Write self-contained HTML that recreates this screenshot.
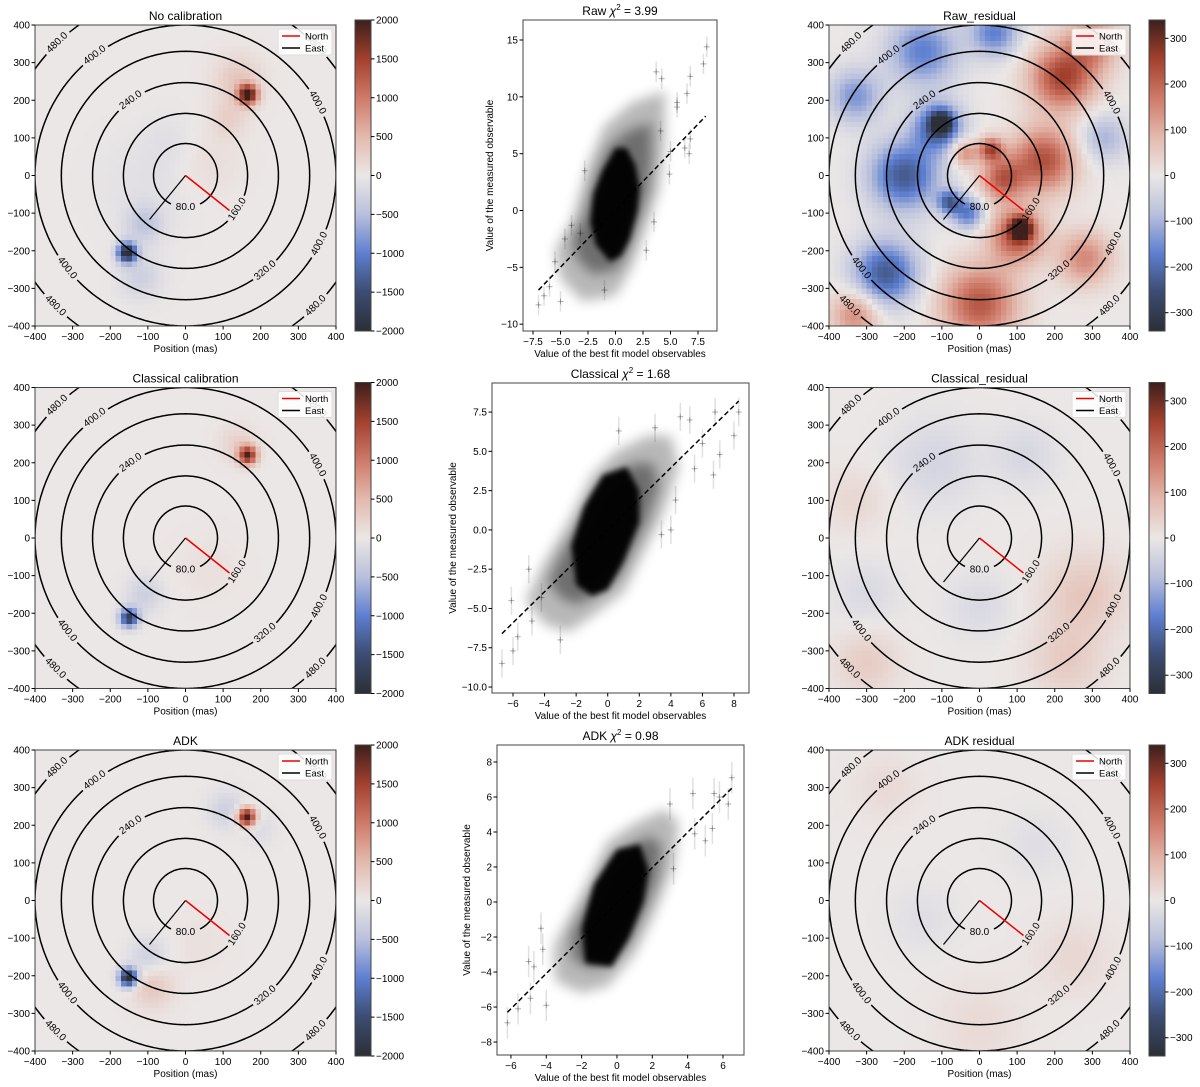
<!DOCTYPE html>
<html><head><meta charset="utf-8"><style>
html,body{margin:0;padding:0;background:#fff;}
svg{display:block;font-family:"Liberation Sans","DejaVu Sans",sans-serif;}
</style></head><body>
<svg id="fig" width="1200" height="1087" viewBox="0 0 1200 1087" xmlns="http://www.w3.org/2000/svg">
<defs>
<filter id="blur3" x="-20%" y="-20%" width="140%" height="140%"><feGaussianBlur stdDeviation="3"/></filter>
<filter id="blur5" x="-20%" y="-20%" width="140%" height="140%"><feGaussianBlur stdDeviation="6"/></filter>
<linearGradient id="cbgrad" x1="0" y1="1" x2="0" y2="0">
<stop offset="0" stop-color="#2b2f36"/><stop offset="0.125" stop-color="#3c4c72"/>
<stop offset="0.25" stop-color="#5e7fd0"/><stop offset="0.375" stop-color="#b9c0dc"/>
<stop offset="0.5" stop-color="#ebe7e6"/><stop offset="0.625" stop-color="#e3b9ad"/>
<stop offset="0.75" stop-color="#cf7a69"/><stop offset="0.875" stop-color="#a3402e"/>
<stop offset="1" stop-color="#3d1f1c"/></linearGradient>
</defs>
</svg>
<script>
// ---------- heatmap data: blobs [x_mas, y_mas, amplitude, sigma_mas] ----------
const blobsNoCal = [[165,215,2100,18],[140,255,350,45],[115,150,250,35],[60,30,120,60],[-155,-205,-2100,18],[-110,-130,-400,35],[-120,-270,-300,40],[-100,-20,-100,90],[-40,90,-80,50]];
const blobsClassical = [[165,220,1800,17],[140,250,250,35],[-150,-212,-1750,17],[-110,-150,-300,35],[60,-80,80,60]];
const blobsADK = [[162,222,2100,17],[110,240,-300,35],[200,190,-150,30],[-152,-205,-2100,17],[-90,-230,350,40],[-100,-150,-300,35],[40,-120,80,50]];
const blobsRawRes = [[220,260,250,60],[170,40,230,60],[100,-160,230,50],[0,-340,220,70],[280,-220,150,50],[60,-10,200,40],[300,350,150,50],[-30,-100,-180,30],[-200,0,-230,65],[-250,-260,-230,60],[-110,130,-230,45],[-150,330,-170,65],[40,380,-170,45],[-330,210,-140,50],[-40,60,150,25],[330,100,-100,45],[-330,-370,150,45],[30,70,230,22],[-80,-70,-200,22],[110,-140,300,20],[-100,140,-250,20]];
const blobsClassRes = [[280,-150,60,80],[230,-330,50,70],[-300,-330,50,60],[-330,100,30,60],[-120,200,-40,80],[120,220,-35,60],[0,-180,-30,60],[-300,-150,-30,60]];
const blobsADKRes = [[250,-150,30,70],[-250,300,25,60],[0,-330,25,80],[-150,-50,-20,60],[150,150,-20,60]];
// contour levels (mas) and label angles (deg)
const contourLevels = ["80.0","160.0","240.0","320.0","400.0","480.0"];
const contourRadiiMas = [85,165,247,330,400,490];
const contourLabelAngles = [[-90],[-33],[126],[-50],[127,29,218,-27],[134,225,-45,45]];
const mapTicks = [-400,-300,-200,-100,0,100,200,300,400];
const cbTicksFlux = [-2000,-1500,-1000,-500,0,500,1000,1500,2000];
const cbTicksRes = [-300,-200,-100,0,100,200,300];

// ---------- scatter data ----------
const rawCore = [[-0.5,-4.5],[-1.8,-3],[-2.3,-1],[-2,1.5],[-1.2,3.5],[0,5.5],[1,5.5],[1.8,4],[2.2,2],[2,0],[1.3,-2.5],[0.5,-4]];
const rawHalo = [[-3,-8],[-5,-6],[-5.5,-3.5],[-4,-1],[-2.5,4],[-1,7.5],[1.5,9.5],[3,10],[4.5,10.5],[4.5,6],[4,2],[3,-1],[1.5,-5],[0,-7.5]];
const rawOut = [[8.3,14.4],[8,12.9],[6.8,11.8],[6.5,10.3],[5.6,9.5],[5.6,9.1],[4.2,11.6],[3.7,12.2],[4.1,7],[6.3,5.5],[6.8,6.3],[6.7,5],[5,5.2],[4.9,3.2],[-7,-8.3],[-6.5,-7.5],[-5,-8],[-6,-6.7],[-5.5,-4.5],[-4.6,-2.5],[-4,-1.3],[-3.2,-2],[-2.8,3.5],[2.8,-3.5],[3.5,-1],[-1,-7]];
const rawFit = [[-7,-7],[8.2,8.3]];
const clsCore = [[-2,-3.5],[-2.3,-1],[-1.5,1.5],[-0.3,3.5],[1.2,4],[2,2.5],[2,0.5],[1,-2],[0,-3.8],[-1,-4.2]];
const clsHalo = [[-4,-6],[-5.2,-4.5],[-4,-2],[-2.5,0.5],[-1,3.5],[0.5,5],[2.5,6],[4,6],[4.5,4],[3.5,1],[2,-2],[1,-4],[-1,-5.5],[-2.5,-6.5]];
const clsOut = [[-6.7,-8.5],[-6,-7.7],[-6.1,-4.5],[-5.7,-6.8],[-5,-2.5],[-4.8,-5.8],[-4.2,-4.3],[-3,-7],[6.8,7.5],[5.2,7],[4.6,7.2],[8.3,7.5],[8,6],[7.1,4.8],[6.7,3.5],[6,5.5],[5.5,3.9],[3,6.5],[0.7,6.3],[4.3,1.9],[4,0],[3.4,-0.3]];
const clsFit = [[-6.7,-6.6],[8.3,8.2]];
const adkCore = [[-1.8,-3.5],[-2,-1.5],[-1.3,1],[0,3],[1.3,3.3],[1.8,1.8],[1.5,0],[0.7,-2],[-0.3,-3.7]];
const adkHalo = [[-3.5,-4.5],[-3.6,-2.5],[-2,0.5],[-0.5,3.5],[1,4.5],[2.7,5.3],[3.5,4.5],[3.2,2],[2.2,-0.5],[1,-3],[-0.5,-4.8],[-2,-5.2]];
const adkOut = [[-6.2,-6.9],[-5.6,-6.1],[-5,-3.4],[-4.9,-5.5],[-4.7,-3.7],[-4.3,-1.5],[-4,-5.9],[-4.2,-2.7],[6.5,7.1],[6.3,5.6],[5.8,6],[5.5,6.2],[4.3,6.2],[5,3.5],[5.4,4.2],[3.2,1.9],[4.4,3.9],[3,5.6]];
const adkFit = [[-6.2,-6.3],[6.5,6.5]];
const rawXTicks = [-7.5,-5,-2.5,0,2.5,5,7.5];
const rawYTicks = [-10,-5,0,5,10,15];
const clsXTicks = [-6,-4,-2,0,2,4,6,8];
const clsYTicks = [-10,-7.5,-5,-2.5,0,2.5,5,7.5];
const adkXTicks = [-6,-4,-2,0,2,4,6];
const adkYTicks = [-8,-6,-4,-2,0,2,4,6,8];

const NS="http://www.w3.org/2000/svg";
const fig=document.getElementById('fig');
function mk(tag,attrs,parent){const e=document.createElementNS(NS,tag);for(const k in attrs)e.setAttribute(k,attrs[k]);(parent||fig).appendChild(e);return e;}
function fmt(v,dec){const s=dec?Math.abs(v).toFixed(dec):String(Math.abs(v));return (v<0?"\u2212":"")+s;}

const stops=[[-1,[43,47,54]],[-0.75,[60,76,114]],[-0.5,[94,127,208]],[-0.25,[185,192,220]],[0,[235,231,230]],[0.25,[227,185,173]],[0.5,[207,122,105]],[0.75,[163,64,46]],[1,[61,31,28]]];
function cmap(t){t=Math.max(-1,Math.min(1,t));for(let i=0;i<stops.length-1;i++){const a=stops[i],b=stops[i+1];if(t<=b[0]){const f=(t-a[0])/(b[0]-a[0]);const c=a[1].map((v,j)=>Math.round(v+(b[1][j]-v)*f));return `rgb(${c[0]},${c[1]},${c[2]})`;}}return 'rgb(61,31,28)';}

let clipId=0;
function mapPanel(L,T,title,blobs,vmax,cbTicks,cbX,name){
  const W=301,H=301,sx=W/800;
  const g=mk('g',{});
  
  
  const px=x=>L+(x+400)*sx, py=y=>T+(400-y)*sx;
  const cid='clip'+(clipId++);
  const cp=mk('clipPath',{id:cid},g);mk('rect',{x:L,y:T,width:W,height:H},cp);
  const img=mk('g',{'clip-path':`url(#${cid})`,'shape-rendering':'crispEdges'},g);
  
  
  const N=56,cs=800/N;
  for(let i=0;i<N;i++)for(let j=0;j<N;j++){
    const x=-400+(i+0.5)*cs,y=400-(j+0.5)*cs;let v=0;
    for(const b of blobs){const d2=(x-b[0])**2+(y-b[1])**2;v+=b[2]*Math.exp(-d2/(2*b[3]*b[3]));}
    mk('rect',{x:px(-400+i*cs),y:py(400-j*cs),width:cs*sx+0.6,height:cs*sx+0.6,fill:cmap(v/vmax)},img);
  }
  const cx=px(0),cy=py(0);
  const cg=mk('g',{'clip-path':`url(#${cid})`},g);
  
  
  contourRadiiMas.forEach((rm,k)=>{
    const r=rm*sx;const gaps=contourLabelAngles[k];const gw=15/r*180/Math.PI;
    let d='',pen=false;
    for(let a=0;a<=360;a+=1){
      const inGap=gaps.some(ga=>{let dd=((a-ga)%360+540)%360-180;return Math.abs(dd)<gw;});
      if(inGap){pen=false;continue;}
      const X=cx+r*Math.cos(a*Math.PI/180),Y=cy-r*Math.sin(a*Math.PI/180);
      d+=(pen?'L':'M')+X.toFixed(1)+','+Y.toFixed(1);pen=true;
    }
    const p=mk('path',{d:d,fill:'none',stroke:'#000','stroke-width':1.5},cg);
    
    
    gaps.forEach(ga=>{
      const X=cx+r*Math.cos(ga*Math.PI/180),Y=cy-r*Math.sin(ga*Math.PI/180);
      let rot=90-ga;rot=((rot%360)+360)%360;if(rot>90&&rot<=270)rot-=180;if(rot>270)rot-=360;
      const t=mk('text',{x:X,y:Y,'font-size':10,'text-anchor':'middle','dominant-baseline':'central',transform:`rotate(${rot} ${X} ${Y})`},cg);
      t.textContent=contourLevels[k];
      
      
    });
  });
  const nl=mk('line',{x1:cx,y1:cy,x2:cx+44,y2:cy+35,stroke:'#e00',"stroke-width":1.5},g);
  
  
  const el=mk('line',{x1:cx,y1:cy,x2:cx-36,y2:cy+44,stroke:'#000',"stroke-width":1.2},g);
  
  
  mk('rect',{x:L,y:T,width:W,height:H,fill:'none',stroke:'#444','stroke-width':1},g);
  mapTicks.forEach(v=>{
    mk('line',{x1:px(v),y1:T+H,x2:px(v),y2:T+H+3.5,stroke:'#000'},g);
    const tx=mk('text',{x:px(v),y:T+H+14,'font-size':10,'text-anchor':'middle'},g);tx.textContent=fmt(v);
    
    mk('line',{x1:L,y1:py(v),x2:L-3.5,y2:py(v),stroke:'#000'},g);
    const ty=mk('text',{x:L-5,y:py(v)+3.5,'font-size':10,'text-anchor':'end'},g);ty.textContent=fmt(v);
    
  });
  const xl=mk('text',{x:L+W/2,y:T+H+26,'font-size':10,'text-anchor':'middle'},g);xl.textContent='Position (mas)';
  
  const tt=mk('text',{x:L+W/2,y:T-5,'font-size':12,'text-anchor':'middle'},g);tt.textContent=title;
  
  const lg=mk('g',{},g);
  
  
  mk('rect',{x:L+243,y:T+4,width:54,height:26,rx:2,fill:'#fff','fill-opacity':0.85,stroke:'#ddd'},lg);
  mk('line',{x1:L+247,y1:T+11,x2:L+265,y2:T+11,stroke:'#e00','stroke-width':1.5},lg);
  mk('line',{x1:L+247,y1:T+23,x2:L+265,y2:T+23,stroke:'#000','stroke-width':1.5},lg);
  const t1=mk('text',{x:L+270,y:T+14.5,'font-size':9.5},lg);t1.textContent='North';
  
  const t2=mk('text',{x:L+270,y:T+26.5,'font-size':9.5},lg);t2.textContent='East';
  
  const cb=mk('g',{},g);
  
  
  const cT=T-5,cH=311;
  mk('rect',{x:cbX,y:cT,width:16,height:cH,fill:'url(#cbgrad)',stroke:'#444'},cb);
  cbTicks.forEach(v=>{const y=cT+cH*(1-(v+vmax)/(2*vmax));
    mk('line',{x1:cbX+16,y1:y,x2:cbX+19.5,y2:y,stroke:'#000'},cb);
    const t=mk('text',{x:cbX+21,y:y+3.5,'font-size':10},cb);t.textContent=fmt(v);
    });
}

function scatterPanel(box,xlim,ylim,title,core,halo,out,fit,xt,yt,dec,ylabX,name){
  const [L,T,R,B]=box;
  const g=mk('g',{});
  
  
  const X=v=>L+(v-xlim[0])/(xlim[1]-xlim[0])*(R-L);
  const Y=v=>B-(v-ylim[0])/(ylim[1]-ylim[0])*(B-T);
  const cid='clip'+(clipId++);
  const cp=mk('clipPath',{id:cid},g);mk('rect',{x:L,y:T,width:R-L,height:B-T},cp);
  const pg=mk('g',{'clip-path':`url(#${cid})`},g);
  const hp=mk('polygon',{points:halo.map(p=>X(p[0])+','+Y(p[1])).join(' '),fill:'#000','fill-opacity':0.28,filter:'url(#blur5)'},pg);
  
  // inner halo: halo vertices pulled toward the core centroid
  const ccx=core.reduce((s,p)=>s+p[0],0)/core.length, ccy=core.reduce((s,p)=>s+p[1],0)/core.length;
  const mid=halo.map(p=>[ccx+(p[0]-ccx)*0.72,ccy+(p[1]-ccy)*0.72]);
  const mp=mk('polygon',{points:mid.map(p=>X(p[0])+','+Y(p[1])).join(' '),fill:'#000','fill-opacity':0.4,filter:'url(#blur5)'},pg);
  
  out.forEach(p=>{
    const e=mk('g',{},pg);
    
    
    mk('line',{x1:X(p[0]),y1:Y(p[1]-0.9),x2:X(p[0]),y2:Y(p[1]+0.9),stroke:'#000','stroke-opacity':0.12,'stroke-width':1.5},e);
    mk('line',{x1:X(p[0])-3,y1:Y(p[1]),x2:X(p[0])+3,y2:Y(p[1]),stroke:'#000','stroke-opacity':0.3},e);
    mk('line',{x1:X(p[0]),y1:Y(p[1])-3,x2:X(p[0]),y2:Y(p[1])+3,stroke:'#000','stroke-opacity':0.3},e);
  });
  const cpoly=mk('polygon',{points:core.map(p=>X(p[0])+','+Y(p[1])).join(' '),fill:'#000','fill-opacity':0.97,filter:'url(#blur3)'},pg);
  
  const fl=mk('line',{x1:X(fit[0][0]),y1:Y(fit[0][1]),x2:X(fit[1][0]),y2:Y(fit[1][1]),stroke:'#000','stroke-width':1.5,'stroke-dasharray':'5,3'},g);
  
  mk('rect',{x:L,y:T,width:R-L,height:B-T,fill:'none',stroke:'#444'},g);
  xt.forEach(v=>{mk('line',{x1:X(v),y1:B,x2:X(v),y2:B+3.5,stroke:'#000'},g);
    const t=mk('text',{x:X(v),y:B+14,'font-size':10,'text-anchor':'middle'},g);t.textContent=fmt(v,dec[0]);
    });
  yt.forEach(v=>{mk('line',{x1:L,y1:Y(v),x2:L-3.5,y2:Y(v),stroke:'#000'},g);
    const t=mk('text',{x:L-5,y:Y(v)+3.5,'font-size':10,'text-anchor':'end'},g);t.textContent=fmt(v,dec[1]);
    });
  const xl=mk('text',{x:(L+R)/2,y:B+26,'font-size':10,'text-anchor':'middle'},g);xl.textContent='Value of the best fit model observables';
  
  const cyy=(T+B)/2;
  const yl=mk('text',{x:ylabX,y:cyy,'font-size':10,'text-anchor':'middle',transform:`rotate(-90 ${ylabX} ${cyy})`},g);yl.textContent='Value of the measured observable';
  
  const tt=mk('text',{x:(L+R)/2,y:T-5,'font-size':12,'text-anchor':'middle'},g);
  
  tt.appendChild(document.createTextNode(title+' '));
  const chi=mk('tspan',{'font-style':'italic'},tt);chi.textContent='\u03C7';
  const sup=mk('tspan',{'font-size':8,dy:-5},tt);sup.textContent='2';
  const rest=mk('tspan',{dy:5},tt);rest.textContent=' =  '+title.val;
}

const rowsT=[25,387.5,750];
mapPanel(35,rowsT[0],'No calibration',blobsNoCal,2000,cbTicksFlux,355,'no-calibration-map');
mapPanel(35,rowsT[1],'Classical calibration',blobsClassical,2000,cbTicksFlux,355,'classical-calibration-map');
mapPanel(35,rowsT[2],'ADK',blobsADK,2000,cbTicksFlux,355,'adk-map');
mapPanel(829,rowsT[0],'Raw_residual',blobsRawRes,340,cbTicksRes,1149,'raw-residual-map');
mapPanel(829,rowsT[1],'Classical_residual',blobsClassRes,340,cbTicksRes,1149,'classical-residual-map');
mapPanel(829,rowsT[2],'ADK residual',blobsADKRes,340,cbTicksRes,1149,'adk-residual-map');

function T(s,v){const o=new String(s);o.val=v;return o;}
scatterPanel([523,20,717,331],[-8.41,9.23],[-10.6,16.76],T('Raw','3.99'),rawCore,rawHalo,rawOut,rawFit,rawXTicks,rawYTicks,[1,0],493,'raw-scatter');
scatterPanel([492,383,749,693],[-7.33,8.95],[-10.38,9.35],T('Classical','1.68'),clsCore,clsHalo,clsOut,clsFit,clsXTicks,clsYTicks,[0,1],456,'classical-scatter');
scatterPanel([497,745,744,1055],[-6.79,7.19],[-8.74,8.97],T('ADK','0.98'),adkCore,adkHalo,adkOut,adkFit,adkXTicks,adkYTicks,[0,0],470,'adk-scatter');
</script>
</body></html>
